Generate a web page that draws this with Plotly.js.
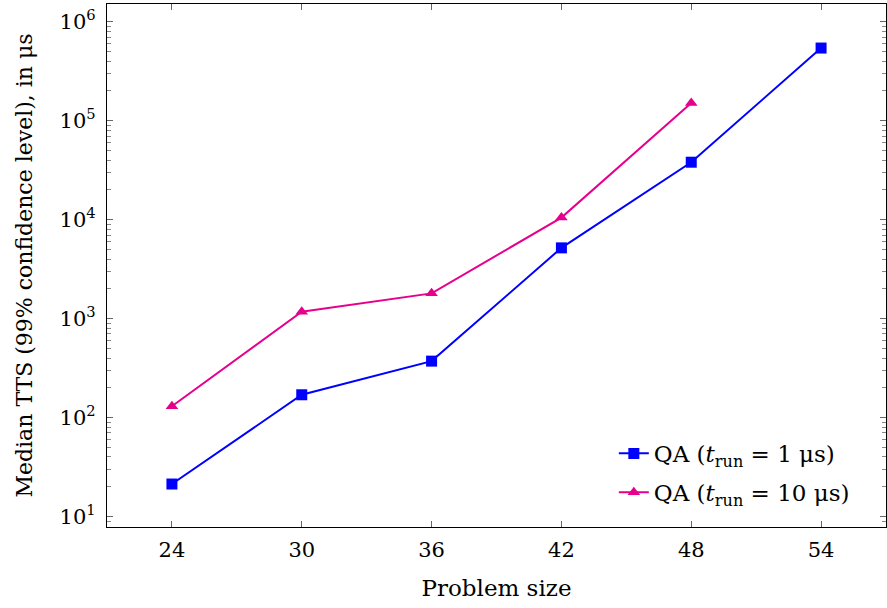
<!DOCTYPE html>
<html><head><meta charset="utf-8">
<script src="https://cdn.plot.ly/plotly-3.0.1.min.js"></script>
<style>html,body{margin:0;padding:0;background:#fff}</style>
</head><body>
<div id="chart" style="width:887px;height:608px"></div>
<script>
const sizes1 = [24, 30, 36, 42, 48, 54];
const tts1 = [21.3, 170, 372, 5190, 38100, 543000];
const sizes10 = [24, 30, 36, 42, 48];
const tts10 = [130, 1172, 1800, 10500, 151000];
const xTicks = [24, 30, 36, 42, 48, 54];
const yTicks = [10, 100, 1000, 10000, 100000, 1000000];
const yTickText = ['10<sup>1</sup>', '10<sup>2</sup>', '10<sup>3</sup>', '10<sup>4</sup>', '10<sup>5</sup>', '10<sup>6</sup>'];

const font = "'DejaVu Serif', 'Liberation Serif', serif";
const traces = [
  {x: sizes1, y: tts1, mode: 'lines+markers', name: 'QA (<i>t</i><sub>run</sub> = 1 μs)',
   legendgroup: 'a',
   line: {color: '#0000ff', width: 2}, marker: {symbol: 'square', size: 11, color: '#0000ff'}},
  {x: sizes10, y: tts10, mode: 'lines+markers', name: 'QA (<i>t</i><sub>run</sub> = 10 μs)',
   legendgroup: 'b',
   line: {color: '#e6008c', width: 2}, marker: {symbol: 'triangle-up', size: 11, color: '#e6008c'}}
];
const layout = {
  width: 887, height: 608,
  margin: {l: 107, r: 1, t: 4, b: 81},
  paper_bgcolor: '#fff', plot_bgcolor: '#fff',
  font: {family: font, size: 22, color: '#000'},
  showlegend: true,
  legend: {x: 0.96, y: 0.025, xanchor: 'right', yanchor: 'bottom', bgcolor: 'rgba(0,0,0,0)',
           font: {size: 23}, traceorder: 'grouped', tracegroupgap: 6},
  xaxis: {range: [21, 57], tickvals: xTicks, ticktext: xTicks.map(String),
          ticks: 'inside', ticklen: 6, tickcolor: '#666', mirror: 'allticks',
          showline: true, linecolor: '#000', linewidth: 1.2, showgrid: false, zeroline: false,
          tickfont: {size: 21}, ticklabelstandoff: 4,
          title: {text: 'Problem size', font: {size: 23}, standoff: 18}},
  yaxis: {type: 'log', range: [0.894, 6.18], tickvals: yTicks, ticktext: yTickText,
          ticks: 'inside', ticklen: 6, tickcolor: '#666', mirror: 'allticks',
          minor: {ticks: 'inside', ticklen: 4, tickcolor: '#888', dtick: 'D1', showgrid: false},
          showline: true, linecolor: '#000', linewidth: 1.2, showgrid: false, zeroline: false,
          tickfont: {size: 21}, ticklabelstandoff: 6,
          title: {text: 'Median TTS (99% confidence level), in μs', font: {size: 22}, standoff: 20}}
};
Plotly.newPlot('chart', traces, layout, {displayModeBar: false});
</script>
</body></html>
